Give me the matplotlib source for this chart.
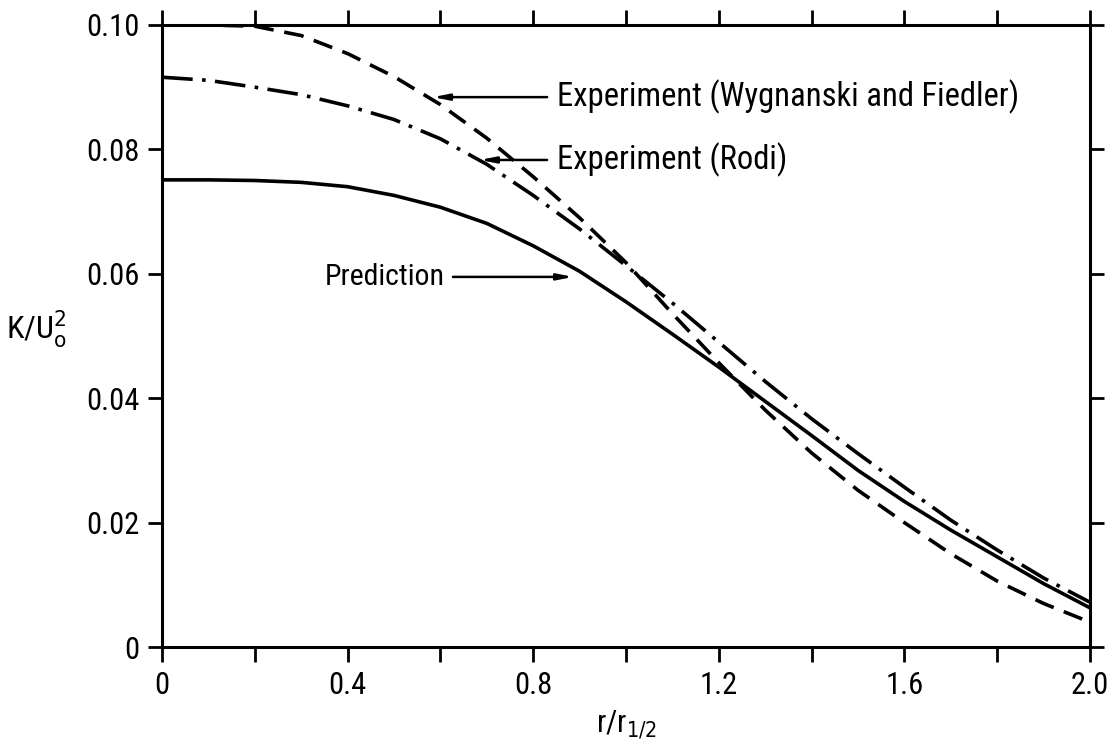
import matplotlib
matplotlib.use("Agg")
import matplotlib.pyplot as plt
from matplotlib import font_manager
from matplotlib.ticker import FixedLocator, FixedFormatter

# Radial coordinate r / r_1/2
r = [0.0, 0.1, 0.2, 0.3, 0.4, 0.5, 0.6, 0.7, 0.8, 0.9, 1.0,
     1.1, 1.2, 1.3, 1.4, 1.5, 1.6, 1.7, 1.8, 1.9, 2.0]

# Turbulent kinetic energy K / U_0^2
k_wygnanski = [0.1000, 0.1000, 0.0998, 0.0983, 0.0954, 0.0917, 0.0872,
               0.0818, 0.0756, 0.0690, 0.0618, 0.0536, 0.0457, 0.0381,
               0.0312, 0.0252, 0.0200, 0.0150, 0.0106, 0.0070, 0.0040]
k_rodi = [0.0916, 0.0911, 0.0900, 0.0888, 0.0870, 0.0848, 0.0817,
          0.0776, 0.0726, 0.0672, 0.0613, 0.0553, 0.0490, 0.0427,
          0.0367, 0.0311, 0.0257, 0.0204, 0.0156, 0.0111, 0.0072]
k_prediction = [0.0751, 0.0751, 0.0750, 0.0747, 0.0740, 0.0726, 0.0707,
                0.0681, 0.0645, 0.0604, 0.0555, 0.0503, 0.0450, 0.0395,
                0.0340, 0.0284, 0.0234, 0.0188, 0.0145, 0.0102, 0.0063]

x_major = [0.0, 0.4, 0.8, 1.2, 1.6, 2.0]
x_labels = ["0", "0.4", "0.8", "1.2", "1.6", "2.0"]
y_major = [0.0, 0.02, 0.04, 0.06, 0.08, 0.10]
y_labels = ["0", "0.02", "0.04", "0.06", "0.08", "0.10"]

# pick a narrow typeface if one is installed
names = {f.name for f in font_manager.fontManager.ttflist}
narrow = [n for n in ("Liberation Sans Narrow", "Roboto Condensed",
                      "Open Sans Condensed", "DejaVu Sans Condensed")
          if n in names]
FONT = narrow + ["DejaVu Sans"]
plt.rcParams["font.family"] = FONT
plt.rcParams["font.stretch"] = "condensed"

fig = plt.figure(figsize=(11.13, 7.5), dpi=100)
ax = fig.add_axes([0.1456, 0.1373, 0.8337, 0.8294])

lw = 2.6
ax.plot(r, k_wygnanski, color="black", lw=lw, linestyle=(0, (5.5, 3.0)))
ax.plot(r, k_rodi, color="black", lw=lw, linestyle=(0, (8.5, 2.6, 1.0, 2.6)))
ax.plot(r, k_prediction, color="black", lw=lw, linestyle="-")

ax.set_xlim(0, 2.0)
ax.set_ylim(0, 0.10)

for s in ax.spines.values():
    s.set_linewidth(2.2)

ax.xaxis.set_major_locator(FixedLocator(x_major))
ax.xaxis.set_major_formatter(FixedFormatter(x_labels))
ax.xaxis.set_minor_locator(FixedLocator([0.2, 0.6, 1.0, 1.4, 1.8]))
ax.yaxis.set_major_locator(FixedLocator(y_major))
ax.yaxis.set_major_formatter(FixedFormatter(y_labels))

FS = 22
ax.tick_params(axis="x", which="both", direction="out", length=11, width=2.0,
               top=True, labelsize=FS, pad=6)
ax.tick_params(axis="y", which="major", direction="out", length=10, width=2.0,
               right=True, labelsize=FS, pad=6)

ax.set_xlabel(r"r/r$_{1/2}$", fontsize=FS, labelpad=6)
ax.set_ylabel(r"K/U$_{\mathrm{o}}^{2}$", fontsize=23, rotation=0,
              labelpad=0)
ax.yaxis.set_label_coords(-0.135, 0.478)

arrow = dict(arrowstyle="-|>,head_width=0.18,head_length=0.9",
             color="black", lw=1.8, shrinkA=0, shrinkB=0)

LFS = 23.5
ax.annotate("", xy=(0.584, 0.0884), xytext=(0.830, 0.0884), arrowprops=arrow)
ax.text(0.851, 0.0884, "Experiment (Wygnanski and Fiedler)", fontsize=LFS,
        va="center", ha="left")

ax.annotate("", xy=(0.685, 0.0783), xytext=(0.830, 0.0783), arrowprops=arrow)
ax.text(0.851, 0.0783, "Experiment (Rodi)", fontsize=LFS,
        va="center", ha="left")

ax.annotate("", xy=(0.886, 0.0595), xytext=(0.627, 0.0595), arrowprops=arrow)
ax.text(0.610, 0.0595, "Prediction", fontsize=21.5, va="center", ha="right")

fig.savefig("out.png", dpi=100)
